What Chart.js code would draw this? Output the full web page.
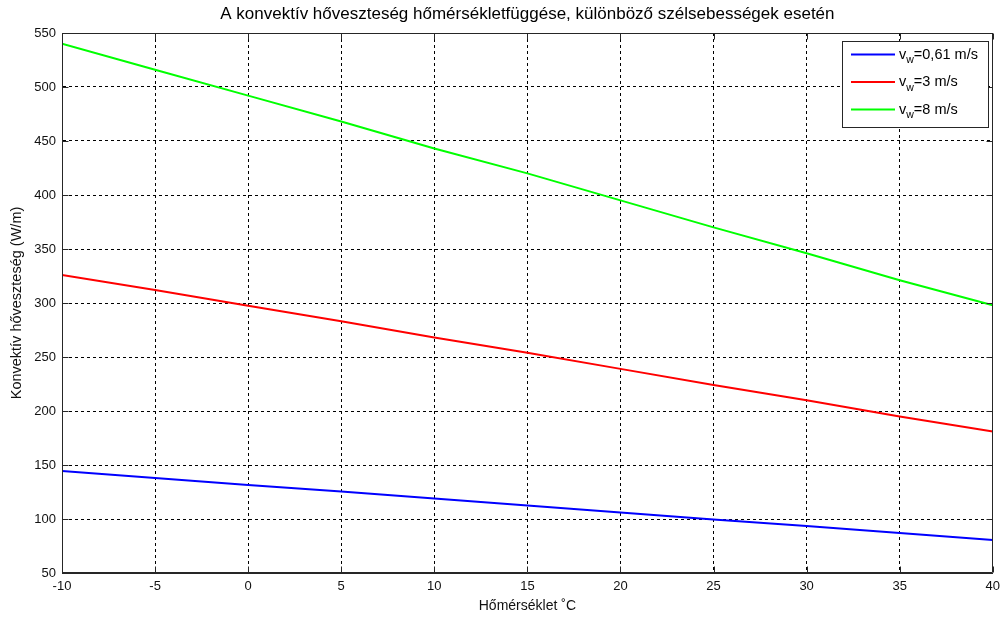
<!DOCTYPE html>
<html>
<head>
<meta charset="utf-8">
<title>Konvektív hőveszteség</title>
<script src="https://cdn.jsdelivr.net/npm/chart.js@4/dist/chart.umd.min.js"></script>
<style>
  html, body { margin: 0; padding: 0; background: #fff; }
  #wrap { width: 1006px; height: 621px; position: relative; }
</style>
</head>
<body>
<div id="wrap"><canvas id="chart" width="1006" height="621"></canvas></div>
<script>
// Léghőmérséklet (°C) és a konvektív hőveszteség (W/m) három szélsebességnél
const temperatures = [-10, -5, 0, 5, 10, 15, 20, 25, 30, 35, 40];
const lossWind061 = [144.5, 138, 131.5, 125.5, 119, 112.5, 106, 99.5, 93.5, 87, 80.5];
const lossWind3   = [326, 312, 297.5, 283, 268, 254, 239, 224, 210, 195, 181];
const lossWind8   = [540, 516, 492, 468, 443, 420, 395, 370, 346, 321, 298];

// Jelmagyarázat: v_w = ...
const legendSymbol = 'v';
const legendSubscript = 'w';
const legendValues = ['=0,61 m/s', '=3 m/s', '=8 m/s'];
const seriesColors = ['#0000ff', '#ff0000', '#00ff00'];

// Tengelyek
const xRange = { min: -10, max: 40, step: 5 };
const yRange = { min: 50, max: 550, step: 50 };

const chartTitle = 'A konvektív hőveszteség hőmérsékletfüggése, különböző szélsebességek esetén';
const xTitle = 'Hőmérséklet ˚C';
const yTitle = 'Konvektív hőveszteség (W/m)';

const FONT = '"Liberation Sans", Arial, Helvetica, sans-serif';

const toPoints = values => values.map((v, i) => ({ x: temperatures[i], y: v }));
const seriesValues = [lossWind061, lossWind3, lossWind8];

// Keret a rajzterület körül, befelé mutató osztásjelekkel (mind a négy oldalon)
const framePlugin = {
  id: 'frame',
  afterDatasetsDraw(chart) {
    const { ctx, chartArea: a, scales } = chart;
    const len = 6;
    ctx.save();
    ctx.strokeStyle = '#262626';
    ctx.lineWidth = 1;
    ctx.setLineDash([]);
    const L = Math.round(a.left) + 0.5, R = Math.round(a.right) - 0.5;
    const T = Math.round(a.top) + 0.5, B = Math.round(a.bottom) - 0.5;
    ctx.beginPath();
    ctx.rect(L, T, R - L, B - T);
    scales.x.ticks.forEach(t => {
      const px = Math.round(scales.x.getPixelForValue(t.value)) + 0.5;
      ctx.moveTo(px, B); ctx.lineTo(px, B - len);
      ctx.moveTo(px, T); ctx.lineTo(px, T + len);
    });
    scales.y.ticks.forEach(t => {
      const py = Math.round(scales.y.getPixelForValue(t.value)) + 0.5;
      ctx.moveTo(L, py); ctx.lineTo(L + len, py);
      ctx.moveTo(R, py); ctx.lineTo(R - len, py);
    });
    ctx.stroke();
    ctx.restore();
  }
};

// Jelmagyarázat alsó indexszel (v_w)
const subscriptLegend = {
  id: 'subscriptLegend',
  afterDraw(chart) {
    const { ctx, chartArea: a } = chart;
    const w = 146, h = 86;
    const x0 = Math.round(a.right) - 5 - w;
    const y0 = Math.round(a.top) + 8;
    ctx.save();
    ctx.fillStyle = '#fff';
    ctx.fillRect(x0, y0, w, h);
    ctx.strokeStyle = '#262626';
    ctx.lineWidth = 1;
    ctx.strokeRect(x0 + 0.5, y0 + 0.5, w, h);
    chart.data.datasets.forEach((ds, i) => {
      const y = y0 + 13.5 + i * 27.5;
      ctx.strokeStyle = ds.borderColor;
      ctx.lineWidth = 2;
      ctx.beginPath();
      ctx.moveTo(x0 + 9, y);
      ctx.lineTo(x0 + 53, y);
      ctx.stroke();
      ctx.fillStyle = '#000';
      ctx.textBaseline = 'middle';
      ctx.textAlign = 'left';
      let x = x0 + 57;
      ctx.font = '14.5px ' + FONT;
      ctx.fillText(legendSymbol, x, y);
      x += ctx.measureText(legendSymbol).width;
      ctx.font = '10.5px ' + FONT;
      ctx.fillText(legendSubscript, x, y + 6);
      x += ctx.measureText(legendSubscript).width;
      ctx.font = '14.5px ' + FONT;
      ctx.fillText(legendValues[i], x, y);
    });
    ctx.restore();
  }
};

new Chart(document.getElementById('chart'), {
  type: 'line',
  data: {
    datasets: seriesValues.map((vals, i) => ({
      label: legendSymbol + legendSubscript + legendValues[i],
      data: toPoints(vals),
      borderColor: seriesColors[i],
      backgroundColor: seriesColors[i],
      borderWidth: 2,
      pointRadius: 0,
      tension: 0,
      fill: false
    }))
  },
  options: {
    responsive: false,
    animation: false,
    devicePixelRatio: 1,
    layout: { padding: { left: 0, right: 12, top: 0, bottom: 0 } },
    plugins: {
      legend: { display: false },
      tooltip: { enabled: false },
      title: {
        display: true,
        fullSize: false,
        text: chartTitle,
        color: '#000',
        font: { family: FONT, size: 17, weight: 'normal', lineHeight: 1.2 },
        padding: { top: 4, bottom: 8.6 }
      }
    },
    scales: {
      x: {
        type: 'linear',
        min: xRange.min,
        max: xRange.max,
        afterFit: s => { s.height = 48; },
        ticks: {
          stepSize: xRange.step,
          color: '#111',
          padding: 6,
          maxRotation: 0,
          font: { family: FONT, size: 13 }
        },
        grid: { color: '#000', lineWidth: 1, drawTicks: false },
        border: { display: true, color: '#262626', width: 1, dash: [3, 3] },
        title: {
          display: true,
          text: xTitle,
          color: '#111',
          font: { family: FONT, size: 14 },
          padding: { top: 0, bottom: 6 }
        }
      },
      y: {
        type: 'linear',
        min: yRange.min,
        max: yRange.max,
        afterFit: s => { s.width = 62; },
        ticks: {
          stepSize: yRange.step,
          color: '#111',
          padding: 6,
          font: { family: FONT, size: 13 }
        },
        grid: { color: '#000', lineWidth: 1, drawTicks: false },
        border: { display: true, color: '#262626', width: 1, dash: [3, 3] },
        title: {
          display: true,
          text: yTitle,
          color: '#111',
          font: { family: FONT, size: 14.5 },
          padding: { top: 8, bottom: 0 }
        }
      }
    }
  },
  plugins: [framePlugin, subscriptLegend]
});
</script>
</body>
</html>
